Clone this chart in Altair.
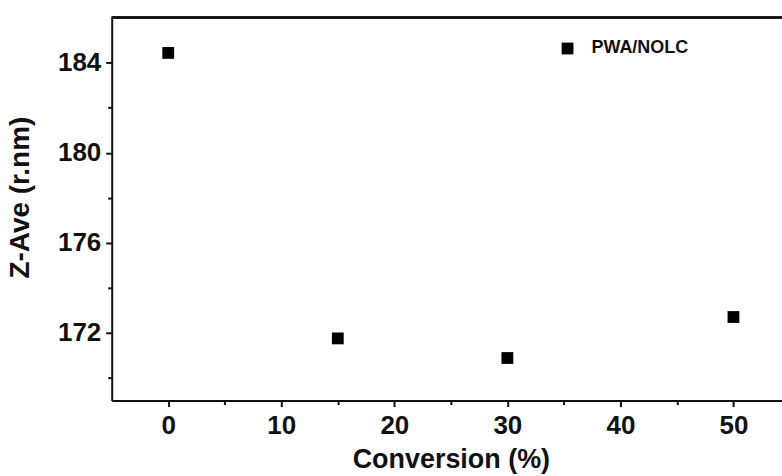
import altair as alt
import pandas as pd

conversion = [0, 15, 30, 50]
z_ave = [184.43, 171.76, 170.89, 172.71]
series = ["PWA/NOLC", "PWA/NOLC", "PWA/NOLC", "PWA/NOLC"]
x_tick_values = [0, 5, 10, 15, 20, 25, 30, 35, 40, 45, 50]
y_tick_values = [170, 172, 174, 176, 178, 180, 182, 184]

df = pd.DataFrame({"Conversion": conversion, "ZAve": z_ave, "Series": series})

FONT = "Liberation Sans"
INK = "#111111"

x_scale = alt.Scale(domain=[-5, 55], nice=False, zero=False)
y_scale = alt.Scale(domain=[169, 186], nice=False, zero=False)

points = alt.Chart(df).mark_point(shape="square", filled=True, size=140, opacity=1).encode(
    x=alt.X(
        "Conversion:Q",
        scale=x_scale,
        axis=alt.Axis(
            orient="bottom",
            values=x_tick_values,
            title="Conversion (%)",
            labelExpr="datum.value % 10 === 0 ? datum.label : ''",
            tickSize={"condition": {"test": "datum.value % 10 === 0", "value": 6}, "value": 4},
            labelPadding=6,
            grid=False,
            titleX=340,
            titleY=59,
            titleBaseline="middle",
            titleAlign="center",
            titleFontSize=27,
        ),
    ),
    y=alt.Y(
        "ZAve:Q",
        scale=y_scale,
        axis=alt.Axis(
            values=y_tick_values,
            title="Z-Ave (r.nm)",
            labelExpr="datum.value % 4 === 0 ? datum.label : ''",
            tickSize={"condition": {"test": "datum.value % 4 === 0", "value": 6}, "value": 4},
            labelPadding=5,
            grid=False,
            titleX=-91,
            titleY=180,
            titleBaseline="middle",
            titleAlign="center",
            titleAngle=270,
            titleFontSize=28,
        ),
    ),
    color=alt.Color(
        "Series:N",
        scale=alt.Scale(range=["#000000"]),
        legend=alt.Legend(
            title=None,
            orient="none",
            legendX=448,
            legendY=22,
            symbolType="square",
            symbolSize=140,
            symbolStrokeWidth=0,
            labelFont=FONT,
            labelFontSize=18,
            labelFontWeight="bold",
            labelColor=INK,
            labelOffset=15,
            padding=0,
        ),
    ),
)

top_frame = alt.Chart(df).mark_rule(color=INK, strokeWidth=2).encode(
    x=alt.value(0),
    x2=alt.value(680),
    y=alt.value(0),
)

chart = (
    alt.layer(points, top_frame)
    .properties(
        width=680,
        height=384,
        padding={"left": 112, "top": 17, "right": -8, "bottom": 75},
        autosize="none",
    )
    .configure_view(stroke="transparent", strokeWidth=0)
    .configure_axis(
        domainColor=INK,
        domainWidth=2,
        tickColor=INK,
        tickWidth=2,
        labelFont=FONT,
        labelFontSize=26,
        labelFontWeight="bold",
        labelColor=INK,
        titleFont=FONT,
        titleFontWeight="bold",
        titleColor=INK,
    )
)

chart.save("out.html", embed_options={"renderer": "svg", "actions": False})
